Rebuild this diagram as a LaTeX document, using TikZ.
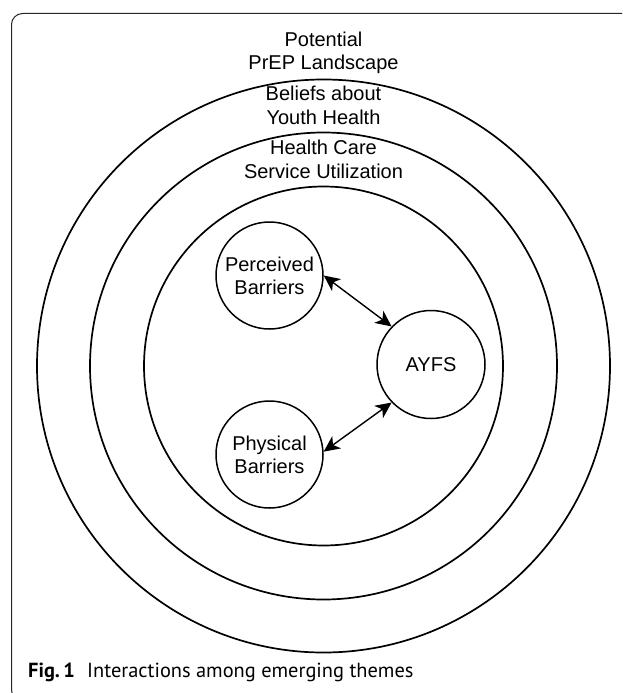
\documentclass[tikz,border=0pt]{standalone}
\usepackage{fontspec}
\setmainfont{Liberation Sans}
\newfontfamily\capfont{PT Sans}
\usetikzlibrary{arrows.meta}
\begin{document}
\begin{tikzpicture}[x=1pt,y=-1pt,
  ring/.style={draw,line width=1.7pt},
  theme/.style={circle,draw,line width=1.5pt,minimum size=107pt,inner sep=0pt,align=center,font=\fontsize{20}{23.3}\selectfont},
  lbl/.style={align=center,anchor=base,font=\fontsize{20}{23.3}\selectfont,inner sep=0pt},
  tip/.style={Stealth[length=16pt,width=15pt,inset=4.5pt]},
  link/.style={line width=1.4pt,{Stealth[length=16pt,width=15pt,inset=4.5pt]}-{Stealth[length=16pt,width=15pt,inset=4.5pt]}}]
\useasboundingbox (0,0) rectangle (622,693);
\begin{scope}
\clip (0,0) rectangle (622,693);
\draw[line width=1pt,black!85,rounded corners=11pt] (11.5,13.5) rectangle (680,701);
\end{scope}
\coordinate (c) at (323.5,366);
\draw[ring] (c) circle[radius=286.5pt];
\draw[ring] (c) circle[radius=233.5pt];
\draw[ring] (c) circle[radius=179.5pt];
\node[lbl] (l1) at (323.5,69.5) {Potential\\PrEP Landscape};
\node[lbl] (l2) at (323.5,124) {Beliefs about\\Youth Health};
\node[lbl] (l3) at (323.5,178) {Health Care\\Service Utilization};
\node[theme] (per) at (269.5,275.5) {Perceived\\Barriers};
\node[theme] (phy) at (269.5,454.5) {Physical\\Barriers};
\node[theme,minimum size=108pt] (ayfs) at (431,364.5) {AYFS};
\draw[link] (per.east) -- (ayfs.136);
\draw[link] (phy.3) -- (ayfs.224);
\node[anchor=base west,inner sep=0pt,font=\capfont\fontsize{20.4}{22}\selectfont] (cap) at (28,677.3) {\textbf{Fig.\,1}\hspace{0.6em}Interactions among emerging themes};
\end{tikzpicture}
\end{document}
